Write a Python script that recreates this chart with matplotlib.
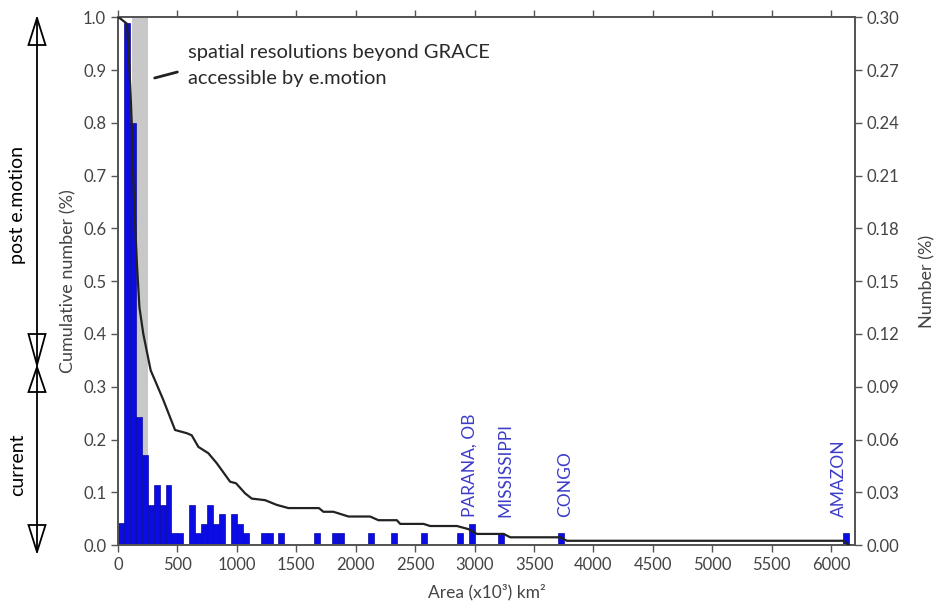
import matplotlib
matplotlib.use('Agg')
import matplotlib.pyplot as plt
from matplotlib.patches import Polygon
import numpy as np

plt.rcParams['font.family'] = ['Lato', 'DejaVu Sans']

# Histogram of basin areas: bin left edges (x10^3 km^2) and share of basins (right axis)
bin_left = [0, 50, 100, 150, 200, 250, 300, 350, 400, 450, 500, 600, 650, 700, 750,
            800, 850, 950, 1000, 1050, 1200, 1250, 1350, 1650, 1800, 1850, 2100, 2300,
            2550, 2850, 2950, 3200, 3700, 6100]
bin_share = [0.0123, 0.297, 0.240, 0.073, 0.051, 0.023, 0.034, 0.023, 0.034, 0.0066,
             0.0066, 0.023, 0.0066, 0.012, 0.023, 0.012, 0.0174, 0.0174, 0.012, 0.0066,
             0.0066, 0.0066, 0.0066, 0.0066, 0.0066, 0.0066, 0.0066, 0.0066, 0.0066,
             0.0066, 0.012, 0.0066, 0.0066, 0.0066]
bin_width = 50

# Cumulative curve (left axis)
cum_x = [0, 20, 76, 90, 105, 118, 125, 135, 160, 180, 213, 275, 317, 381, 480, 578, 620,
         676, 760, 831, 943, 993, 1069, 1125, 1237, 1336, 1434, 1690, 1728, 1812, 1939,
         2121, 2191, 2346, 2374, 2570, 2626, 2851, 2950, 3019, 3244, 3300, 3720, 3776,
         6100, 6150]
cum_y = [1.0, 0.998, 0.988, 0.93, 0.86, 0.786, 0.72, 0.653, 0.53, 0.451, 0.40, 0.331,
         0.309, 0.275, 0.218, 0.212, 0.208, 0.186, 0.174, 0.155, 0.12, 0.117, 0.098,
         0.088, 0.085, 0.076, 0.070, 0.070, 0.063, 0.063, 0.054, 0.054, 0.047, 0.047,
         0.040, 0.040, 0.036, 0.036, 0.030, 0.021, 0.021, 0.0146, 0.0146, 0.008, 0.008,
         0.0]

# GRACE gap shading
grace_span = [120, 250]

# River labels
river_names = ['PARANA, OB', 'MISSISSIPPI', 'CONGO', 'AMAZON']
river_x = [2962, 3257, 3762, 6064]
river_label_y = 0.053

x_ticks = list(range(0, 6001, 500))
left_ticks = [round(0.1 * i, 1) for i in range(11)]
right_ticks = [round(0.03 * i, 2) for i in range(11)]

W, H = 936, 612
fig = plt.figure(figsize=(W / 100, H / 100), dpi=100)
L, R, T, B = 118, 855, 17.5, 545
ax = fig.add_axes([L / W, 1 - B / H, (R - L) / W, (B - T) / H])
ax2 = ax.twinx()
ax.set_zorder(2)
ax2.set_zorder(1)
ax.patch.set_visible(False)

spine_c = '#555555'
text_c = '#444444'

ax2.axvspan(grace_span[0], grace_span[1], color='#c8c8c8', lw=0, zorder=0)
ax2.bar(bin_left, bin_share, width=bin_width, align='edge', color='#0b0be3',
        edgecolor='#0a0aa0', linewidth=0.5, zorder=1)

ax.plot(cum_x, cum_y, color='#222222', lw=1.6, zorder=3)

ax.set_xlim(0, 6200)
ax.set_ylim(0, 1.0)
ax2.set_ylim(0, 0.30)
ax.set_xticks(x_ticks)
ax.set_xticklabels([str(v) for v in x_ticks])
ax.set_yticks(left_ticks)
ax.set_yticklabels(['%.1f' % v for v in left_ticks])
ax2.set_yticks(right_ticks)
ax2.set_yticklabels(['%.2f' % v for v in right_ticks])

for a in (ax, ax2):
    for s in a.spines.values():
        s.set_color(spine_c)
        s.set_linewidth(1.3)
    a.tick_params(direction='out', length=5, width=1, color=spine_c,
                  labelcolor=text_c, labelsize=12)
ax.tick_params(axis='x', top=True)

ax.set_xlabel('Area (x10³) km²', fontsize=12.5, color=text_c, labelpad=8)
ax.set_ylabel('Cumulative number (%)', fontsize=13, color=text_c, labelpad=5)
ax2.set_ylabel('Number (%)', fontsize=13, color=text_c, labelpad=14)

for name, xv in zip(river_names, river_x):
    ax.text(xv, river_label_y, name, rotation=90, ha='center', va='bottom',
            fontsize=12.5, color='#3c3cc8')

ax.annotate('', xy=(286, 0.884), xytext=(522, 0.898),
            arrowprops=dict(arrowstyle='-', lw=2, color='#222222'))
ax.text(590, 0.909, 'spatial resolutions beyond GRACE\naccessible by e.motion',
        ha='left', va='center', fontsize=14.5, color='#2a2a2a', linespacing=1.65)

# Left-side arrows (figure pixel overlay)
ov = fig.add_axes([0, 0, 1, 1])
ov.set_xlim(0, W)
ov.set_ylim(H, 0)
ov.axis('off')
ov.patch.set_visible(False)
xc = 37
ov.plot([xc, xc], [18, 552], color='black', lw=1.3)
hw = 8.5
tris = [
    [(xc - hw, 45), (xc + hw, 45), (xc, 18)],
    [(xc - hw, 334), (xc + hw, 334), (xc, 365)],
    [(xc - hw, 392), (xc + hw, 392), (xc, 367)],
    [(xc - hw, 525), (xc + hw, 525), (xc, 552)],
]
for t in tris:
    ov.add_patch(Polygon(t, closed=True, facecolor='white', edgecolor='black', lw=1.3))

fig.text(18 / W, 1 - 205 / H, 'post e.motion', rotation=90, ha='center', va='center',
         fontsize=14, color='black')
fig.text(18 / W, 1 - 465 / H, 'current', rotation=90, ha='center', va='center',
         fontsize=14, color='black')

fig.savefig('out.png', dpi=100)
